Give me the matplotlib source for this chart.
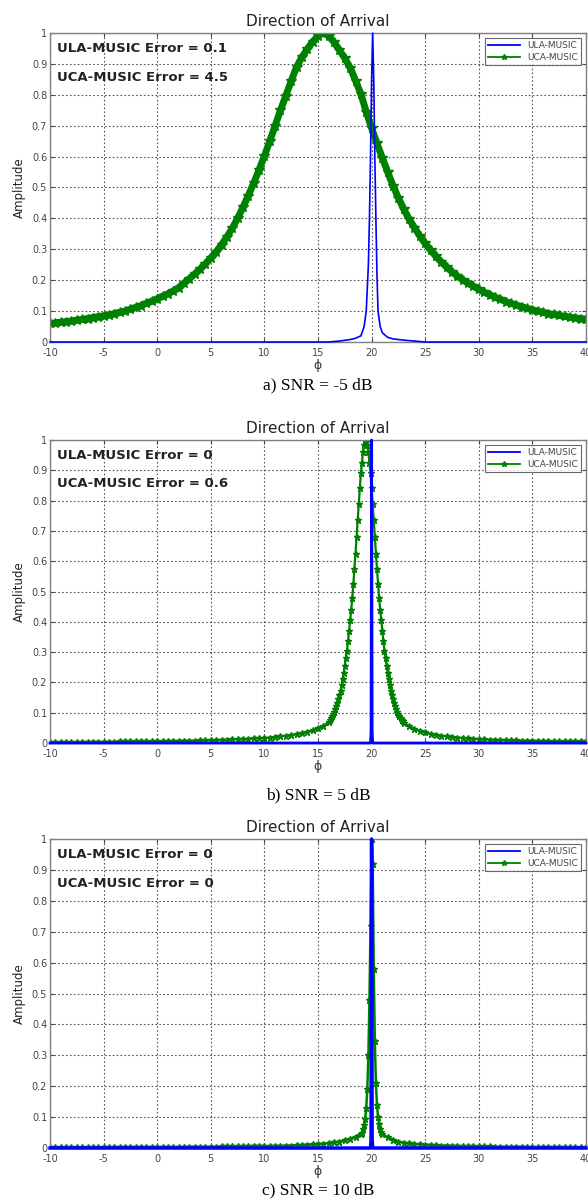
import numpy as np
import matplotlib
matplotlib.use('Agg')
import matplotlib.pyplot as plt

plt.rcParams['axes.unicode_minus'] = False

# ---- data ----
xticks = [-10, -5, 0, 5, 10, 15, 20, 25, 30, 35, 40]
yticks = [0, 0.1, 0.2, 0.3, 0.4, 0.5, 0.6, 0.7, 0.8, 0.9, 1]
captions = ['a) SNR = -5 dB', 'b) SNR = 5 dB', 'c) SNR = 10 dB']
err_ula = ['0.1', '0', '0']
err_uca = ['4.5', '0.6', '0']

# a) SNR = -5 dB, scan grid -10..40 step 0.5
phi_a = np.linspace(-10, 40, 101)
uca_a = [0.060, 0.062, 0.064, 0.066, 0.068, 0.071, 0.073, 0.076, 0.079, 0.082,
         0.085, 0.088, 0.092, 0.096, 0.100, 0.106, 0.112, 0.118, 0.125, 0.132,
         0.140, 0.148, 0.156, 0.165, 0.176, 0.190, 0.205, 0.220, 0.236, 0.253,
         0.272, 0.292, 0.315, 0.340, 0.368, 0.400, 0.436, 0.474, 0.514, 0.557,
         0.602, 0.650, 0.700, 0.750, 0.797, 0.845, 0.890, 0.922, 0.948, 0.972,
         0.990, 1.000, 0.990, 0.970, 0.945, 0.918, 0.888, 0.846, 0.803, 0.745,
         0.692, 0.643, 0.596, 0.550, 0.506, 0.466, 0.430, 0.398, 0.370, 0.343,
         0.319, 0.297, 0.277, 0.259, 0.242, 0.227, 0.213, 0.201, 0.190, 0.180,
         0.170, 0.161, 0.153, 0.145, 0.138, 0.131, 0.125, 0.119, 0.114, 0.109,
         0.104, 0.100, 0.096, 0.092, 0.089, 0.086, 0.083, 0.080, 0.078, 0.076,
         0.074]
phi_ula_a = [-10, 16, 17, 18, 18.5, 19.0, 19.3, 19.5, 19.7, 19.8, 19.9, 20.0, 20.1,
             20.2, 20.3, 20.4, 20.5, 20.6, 20.8, 21.0, 21.5, 22, 23, 24, 25, 40]
ula_a = [0, 0, 0.003, 0.008, 0.012, 0.02, 0.05, 0.10, 0.25, 0.40, 0.60, 0.85, 1.0,
         0.85, 0.60, 0.40, 0.22, 0.10, 0.05, 0.03, 0.015, 0.01, 0.006, 0.003, 0, 0]

# b) SNR = 5 dB, coarse tails, fine around the peak
phi_b = np.concatenate([np.linspace(-10, 15.5, 52), np.linspace(16, 23, 71),
                        np.linspace(23.5, 40, 34)])
uca_b = [0.003, 0.003, 0.003, 0.003, 0.003, 0.003, 0.003, 0.004, 0.004, 0.004,
         0.004, 0.004, 0.004, 0.005, 0.005, 0.005, 0.005, 0.005, 0.006, 0.006,
         0.006, 0.006, 0.007, 0.007, 0.007, 0.008, 0.008, 0.008, 0.009, 0.009,
         0.010, 0.010, 0.011, 0.011, 0.012, 0.013, 0.013, 0.014, 0.015, 0.016,
         0.017, 0.018, 0.020, 0.022, 0.024, 0.026, 0.029, 0.033, 0.037, 0.042,
         0.048, 0.056,
         0.070, 0.076, 0.082, 0.088, 0.095, 0.103, 0.112, 0.122, 0.133,
         0.145, 0.158, 0.173, 0.190, 0.210, 0.232, 0.255, 0.280, 0.305, 0.335,
         0.370, 0.405, 0.440, 0.480, 0.525, 0.575, 0.625, 0.680, 0.735, 0.790,
         0.840, 0.890, 0.925, 0.960, 0.985, 1.000, 0.995, 0.985, 0.960, 0.925,
         0.890, 0.840, 0.790, 0.735, 0.680, 0.625, 0.575, 0.525, 0.480, 0.440,
         0.405, 0.370, 0.335, 0.305, 0.280, 0.255, 0.232, 0.210, 0.190, 0.173,
         0.158, 0.145, 0.133, 0.122, 0.112, 0.103, 0.095, 0.088, 0.082, 0.076,
         0.071, 0.066,
         0.055, 0.047, 0.040, 0.035, 0.030, 0.027, 0.024, 0.022, 0.020, 0.018,
         0.017, 0.015, 0.014, 0.013, 0.012, 0.011, 0.011, 0.010, 0.010, 0.009,
         0.009, 0.008, 0.008, 0.008, 0.007, 0.007, 0.007, 0.006, 0.006, 0.006,
         0.006, 0.005, 0.005, 0.005]
phi_ula_b = [-10, 19.9, 19.95, 20.0, 20.05, 20.1, 40]
ula_b = [0, 0, 0.04, 1.0, 0.04, 0, 0]

# c) SNR = 10 dB
phi_c = np.concatenate([np.linspace(-10, 18.5, 58), np.linspace(19, 21, 21),
                        np.linspace(21.5, 40, 38)])
uca_c = [0.002, 0.002, 0.002, 0.002, 0.002, 0.002, 0.002, 0.002, 0.002, 0.002,
         0.002, 0.002, 0.003, 0.003, 0.003, 0.003, 0.003, 0.003, 0.003, 0.003,
         0.003, 0.003, 0.003, 0.003, 0.003, 0.003, 0.004, 0.004, 0.004, 0.004,
         0.004, 0.004, 0.005, 0.005, 0.005, 0.005, 0.006, 0.006, 0.007, 0.007,
         0.006, 0.006, 0.007, 0.007, 0.008, 0.008, 0.009, 0.010, 0.011, 0.012,
         0.013, 0.014, 0.016, 0.018, 0.021, 0.025, 0.030, 0.037,
         0.045, 0.050, 0.062, 0.075, 0.095, 0.130, 0.190, 0.300, 0.480, 0.720,
         1.000, 0.920, 0.580, 0.345, 0.210, 0.140, 0.100, 0.077, 0.062, 0.052,
         0.045,
         0.034, 0.027, 0.021, 0.017, 0.015, 0.013, 0.012, 0.011, 0.010, 0.009,
         0.008, 0.008, 0.007, 0.007, 0.006, 0.006, 0.006, 0.005, 0.005, 0.005,
         0.004, 0.004, 0.004, 0.004, 0.004, 0.004, 0.003, 0.003, 0.003, 0.003,
         0.003, 0.003, 0.003, 0.003, 0.002, 0.002, 0.002, 0.002]
phi_ula_c = [-10, 19.9, 19.95, 20.0, 20.05, 20.1, 40]
ula_c = [0, 0, 0.03, 1.0, 0.03, 0, 0]

# per panel: ula line, uca line, ula lw, uca lw, marker size
panels = [
    (phi_ula_a, ula_a, phi_a, uca_a, 1.2, 5.0, 7.0),
    (phi_ula_b, ula_b, phi_b, uca_b, 2.0, 1.6, 5.0),
    (phi_ula_c, ula_c, phi_c, uca_c, 2.5, 1.8, 5.0),
]
# axes rectangles in pixels: top, bottom (image is 588 x 1200)
rows = [(33, 342), (440, 743), (839, 1148)]
caption_y = [385, 795, 1190]

W, H = 588, 1200
fig = plt.figure(figsize=(W / 100, H / 100), dpi=100)
fig.patch.set_facecolor('white')

left_px, right_px = 50, 586
for i, (pu, yu, pc, yc, ulw, clw, cms) in enumerate(panels):
    top, bot = rows[i]
    ax = fig.add_axes([left_px / W, 1 - bot / H, (right_px - left_px) / W, (bot - top) / H])
    ax.plot(pu, yu, '-', color='#0000ff', lw=ulw, label='ULA-MUSIC', zorder=3,
            clip_on=False)
    ax.plot(pc, yc, '-', color='#008000', lw=clw, marker='*', ms=cms,
            mec='#008000', mfc='#008000', label='UCA-MUSIC', zorder=2)
    ax.set_xlim(-10, 40)
    ax.set_ylim(0, 1)
    ax.set_xticks(xticks)
    ax.set_yticks(yticks)
    ax.set_yticklabels(['0', '0.1', '0.2', '0.3', '0.4', '0.5', '0.6', '0.7', '0.8', '0.9', '1'])
    ax.grid(True, linestyle=(0, (1.5, 2)), color='#555555', lw=0.8)
    ax.tick_params(direction='in', length=3, labelsize=7, colors='#444444',
                   top=True, right=True, pad=2)
    ax.tick_params(axis='x', pad=4)
    for s in ax.spines.values():
        s.set_color('#808080')
        s.set_linewidth(1.0)
    ax.set_title('Direction of Arrival', fontsize=11, color='#222222', pad=5)
    ax.set_xlabel('ϕ', fontsize=9, color='#333333', labelpad=1)
    ax.set_ylabel('Amplitude', fontsize=8.5, color='#222222', labelpad=4)
    ax.text(-9.35, 0.95, 'ULA-MUSIC Error = ' + err_ula[i], fontsize=9.5,
            fontweight='bold', color='#222222', va='center', ha='left')
    ax.text(-9.35, 0.855, 'UCA-MUSIC Error = ' + err_uca[i], fontsize=9.5,
            fontweight='bold', color='#222222', va='center', ha='left')
    leg = ax.legend(loc='upper right', fontsize=6.5, frameon=True, fancybox=False,
                    edgecolor='#444444', handlelength=3.5, borderaxespad=0.5,
                    labelspacing=0.3, borderpad=0.4)
    leg.get_frame().set_linewidth(0.8)
    for h in leg.legend_handles:
        h.set_linewidth(1.3)
        h.set_markersize(4)
    for t in leg.get_texts():
        t.set_color('#444444')
    fig.text((left_px + right_px) / 2 / W, 1 - caption_y[i] / H, captions[i],
             fontsize=12.5, family='Liberation Serif', ha='center', va='center')

fig.savefig('out.png', dpi=100, facecolor='white')
